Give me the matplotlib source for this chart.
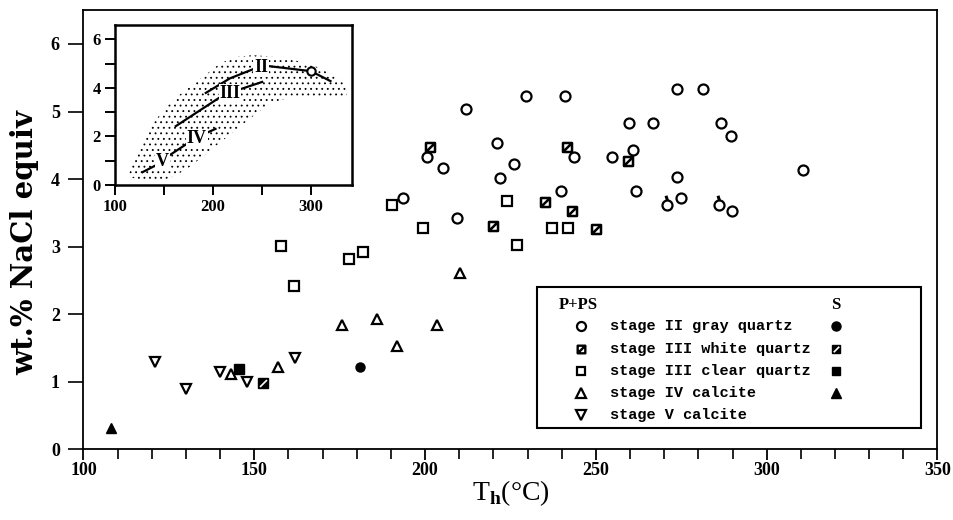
import matplotlib
matplotlib.use('Agg')
import matplotlib.pyplot as plt
from matplotlib.path import Path
from matplotlib.patches import Polygon, Rectangle

plt.rcParams['mathtext.fontset'] = 'custom'
plt.rcParams['mathtext.rm'] = 'Liberation Serif'
plt.rcParams['mathtext.bf'] = 'Liberation Serif:bold'
plt.rcParams['hatch.linewidth'] = 0.6

# ---------------- data (Th in deg C, salinity in wt.% NaCl equiv) ----------------
# P+PS inclusions
st2_T = [212.0, 229.6, 240.9, 273.6, 281.4, 221.0, 226.0, 221.8, 200.5, 205.3, 193.5,
         209.4, 243.5, 239.8, 259.7, 266.8, 286.6, 289.6, 261.0, 254.7, 310.5, 261.7,
         273.8, 270.8, 274.8, 285.9, 289.9]
st2_S = [5.03, 5.23, 5.23, 5.34, 5.34, 4.53, 4.22, 4.02, 4.32, 4.17, 3.72,
         3.42, 4.32, 3.82, 4.83, 4.83, 4.83, 4.64, 4.43, 4.32, 4.13, 3.82,
         4.03, 3.61, 3.72, 3.61, 3.53]
st2_tail_T = [270.8, 285.9]
st2_tail_S = [3.61, 3.61]

st3w_T = [201.3, 220.0, 241.5, 235.1, 243.1, 250.0, 259.4]
st3w_S = [4.47, 3.31, 4.47, 3.66, 3.53, 3.26, 4.27]

st3c_T = [157.7, 161.7, 177.8, 181.7, 190.4, 199.5, 224.0, 227.0, 237.1, 241.9]
st3c_S = [3.01, 2.41, 2.81, 2.92, 3.61, 3.27, 3.67, 3.02, 3.27, 3.27]

st4_T = [143.1, 156.8, 175.8, 185.8, 191.7, 203.4, 210.1]
st4_S = [1.11, 1.22, 1.83, 1.93, 1.52, 1.84, 2.61]

st5_T = [121.0, 130.0, 140.0, 148.0, 161.9]
st5_S = [1.29, 0.89, 1.14, 0.99, 1.35]

# S inclusions
s2_T, s2_S = [180.9], [1.21]
s3w_T, s3w_S = [152.6], [0.98]
s3c_T, s3c_S = [145.6], [1.19]
s4_T, s4_S = [108.1], [0.31]

legend_labels = ['stage II gray quartz', 'stage III white quartz', 'stage III clear quartz',
                 'stage IV calcite', 'stage V calcite']

# inset: stippled field and trend lines
field_T = [113.6, 123.8, 135.7, 152.7, 173.1, 190.1, 207.1, 224.1, 241.2, 261.6, 282.0,
           302.4, 322.8, 336.4, 336.4, 302.4, 275.2, 258.2, 244.6, 227.6, 210.5, 193.5,
           176.5, 162.9, 145.9, 128.9, 115.3]
field_S = [0.41, 1.44, 2.40, 3.23, 3.98, 4.46, 5.01, 5.28, 5.35, 5.28, 5.15,
           4.94, 4.53, 4.12, 3.57, 3.57, 3.57, 3.36, 2.95, 2.40, 1.85, 1.30,
           0.75, 0.41, 0.14, 0.14, 0.34]
trend_II_a_T, trend_II_a_S = [191.8, 217.3, 242.9], [3.77, 4.39, 4.80]
trend_II_b_T, trend_II_b_S = [256.5, 300.0, 321.1], [4.90, 4.69, 4.26]
trend_III_a_T, trend_III_a_S = [161.2, 207.1], [2.40, 3.61]
trend_III_b_T, trend_III_b_S = [227.6, 251.4], [3.94, 4.26]
trend_V_T, trend_V_S = [127.2, 146.0], [0.51, 0.90]
trend_IV_a_T, trend_IV_a_S = [151.0, 176.5], [1.10, 1.78]
trend_IV_b_T, trend_IV_b_S = [191.0, 203.7], [2.10, 2.33]
inset_labels = ['II', 'III', 'IV', 'V']
inset_label_T = [249.5, 217.5, 183.5, 148.6]
inset_label_S = [4.85, 3.77, 1.92, 0.96]
inset_circle_T, inset_circle_S = [300.0], [4.69]

# ---------------- markers ----------------
diag_sq = Path([(-1, -1), (1, -1), (1, 1), (-1, 1), (-1, -1), (-1, -1), (1, 1)],
               [Path.MOVETO, Path.LINETO, Path.LINETO, Path.LINETO, Path.CLOSEPOLY,
                Path.MOVETO, Path.LINETO])
diag_only = Path([(-1, -1), (1, 1)], [Path.MOVETO, Path.LINETO])
tail = Path([(0, 1.0), (-0.3, 2.0)], [Path.MOVETO, Path.LINETO])

fig = plt.figure(figsize=(9.54, 5.20), dpi=100)
ax = fig.add_axes([0.0875, 0.1365, 0.8952, 0.8438])

mk = dict(linestyle='none', color='black')
ax.plot(st2_T, st2_S, marker='o', ms=7.2, mfc='white', mew=1.6, **mk)
ax.plot(st2_tail_T, st2_tail_S, marker=tail, ms=14, mew=2.2, **mk)
ax.plot(st3w_T, st3w_S, marker=diag_sq, ms=6.5, mfc='none', mew=1.8, **mk)
ax.plot(st3c_T, st3c_S, marker='s', ms=7, mfc='white', mew=1.6, **mk)
ax.plot(st4_T, st4_S, marker='^', ms=7.5, mfc='white', mew=1.6, **mk)
ax.plot(st5_T, st5_S, marker='v', ms=7.5, mfc='white', mew=1.6, **mk)
ax.plot(s2_T, s2_S, marker='o', ms=6.5, mfc='black', mew=1, **mk)
ax.plot(s3w_T, s3w_S, marker='s', ms=7, mfc='black', mew=1, **mk)
ax.plot(s3w_T, s3w_S, marker=diag_only, ms=5, mew=1.2, linestyle='none', color='white')
ax.plot(s3c_T, s3c_S, marker='s', ms=7, mfc='black', mew=1, **mk)
ax.plot(s4_T, s4_S, marker='^', ms=7.5, mfc='black', mew=1, **mk)

ax.set_xlim(100, 350)
ax.set_ylim(0, 6.5)
ax.set_xticks([100, 150, 200, 250, 300, 350])
ax.set_xticks(range(100, 351, 10), minor=True)
ax.set_yticks(range(0, 7))
tickfont = dict(family='Liberation Serif', weight='bold', size=13)
ax.set_xticklabels([str(v) for v in [100, 150, 200, 250, 300, 350]], **tickfont)
ax.set_yticklabels([str(v) for v in range(0, 7)], **tickfont)
ax.tick_params(axis='x', which='major', direction='out', length=8, width=1.3, pad=1)
ax.tick_params(axis='x', which='minor', direction='out', length=7, width=1.2)
ax.tick_params(axis='y', which='major', direction='out', length=11, width=1.2, pad=6)
for sp in ax.spines.values():
    sp.set_linewidth(1.3)

ax.set_xlabel(r'$\mathrm{T}_{\mathbf{h}}$(°C)', family='Liberation Serif', size=20, labelpad=0)
ax.set_ylabel('wt.% NaCl equiv', family='DejaVu Serif', weight='bold', size=21)
ax.yaxis.set_label_coords(-0.052, 0.47)

# ---------------- manual legend ----------------
tA = ax.transAxes
ax.add_patch(Rectangle((0.531, 0.047), 0.450, 0.323, transform=tA, fill=False,
                       lw=1.5, ec='black', zorder=5))
hdr = dict(family='Liberation Serif', weight='bold', size=12, transform=tA, va='center')
ax.text(0.556, 0.328, 'P+PS', ha='left', **hdr)
ax.text(0.881, 0.328, 'S', ha='center', **hdr)
rows_y = [0.280, 0.229, 0.178, 0.128, 0.077]
xm, xt, xs = 0.583, 0.616, 0.881
ax.plot([xm], [rows_y[0]], transform=tA, marker='o', ms=6.5, mfc='white', mew=1.6, **mk)
ax.plot([xm], [rows_y[1]], transform=tA, marker=diag_sq, ms=5.5, mfc='none', mew=1.7, **mk)
ax.plot([xm], [rows_y[2]], transform=tA, marker='s', ms=6, mfc='white', mew=1.6, **mk)
ax.plot([xm], [rows_y[3]], transform=tA, marker='^', ms=6.5, mfc='white', mew=1.6, **mk)
ax.plot([xm], [rows_y[4]], transform=tA, marker='v', ms=6.5, mfc='white', mew=1.6, **mk)
ax.plot([xs], [rows_y[0]], transform=tA, marker='o', ms=6.5, mfc='black', **mk)
ax.plot([xs], [rows_y[1]], transform=tA, marker='s', ms=6, mfc='black', **mk)
ax.plot([xs], [rows_y[1]], transform=tA, marker=diag_only, ms=4, mew=1.2,
        linestyle='none', color='white')
ax.plot([xs], [rows_y[2]], transform=tA, marker='s', ms=6, mfc='black', **mk)
ax.plot([xs], [rows_y[3]], transform=tA, marker='^', ms=6.5, mfc='black', **mk)
for lab, yy in zip(legend_labels, rows_y):
    ax.text(xt, yy, lab, transform=tA, family='Liberation Mono', weight='bold',
            size=11, ha='left', va='center')

# ---------------- inset ----------------
axi = fig.add_axes([0.1205, 0.6442, 0.2484, 0.3077])
axi.add_patch(Polygon(list(zip(field_T, field_S)), closed=True, facecolor='none',
                      edgecolor='black', lw=0, hatch='...'))
lk = dict(color='black', lw=1.6, solid_capstyle='butt')
for xs_, ys_ in [(trend_II_a_T, trend_II_a_S), (trend_II_b_T, trend_II_b_S),
                 (trend_III_a_T, trend_III_a_S), (trend_III_b_T, trend_III_b_S),
                 (trend_V_T, trend_V_S), (trend_IV_a_T, trend_IV_a_S),
                 (trend_IV_b_T, trend_IV_b_S)]:
    axi.plot(xs_, ys_, **lk)
for lab, xx, yy in zip(inset_labels, inset_label_T, inset_label_S):
    axi.text(xx, yy, lab, family='Liberation Serif', weight='bold', size=13,
             ha='center', va='center',
             bbox=dict(boxstyle='square,pad=0.05', fc='white', ec='none'))
axi.plot(inset_circle_T, inset_circle_S, marker='o', ms=6, mfc='white', mew=1.5, **mk)
axi.set_xlim(100, 342)
axi.set_ylim(0, 6.59)
axi.set_xticks([100, 200, 300])
axi.set_xticks([150, 250], minor=True)
axi.set_yticks([0, 2, 4, 6])
axi.set_yticks([1, 3, 5], minor=True)
itf = dict(family='Liberation Serif', weight='bold', size=12)
axi.set_xticklabels(['100', '200', '300'], **itf)
axi.set_yticklabels(['0', '2', '4', '6'], **itf)
axi.tick_params(axis='both', which='both', direction='out', length=7, width=1.4, pad=3)
for sp in axi.spines.values():
    sp.set_linewidth(1.8)

fig.savefig('out.png', dpi=100, facecolor='white')
